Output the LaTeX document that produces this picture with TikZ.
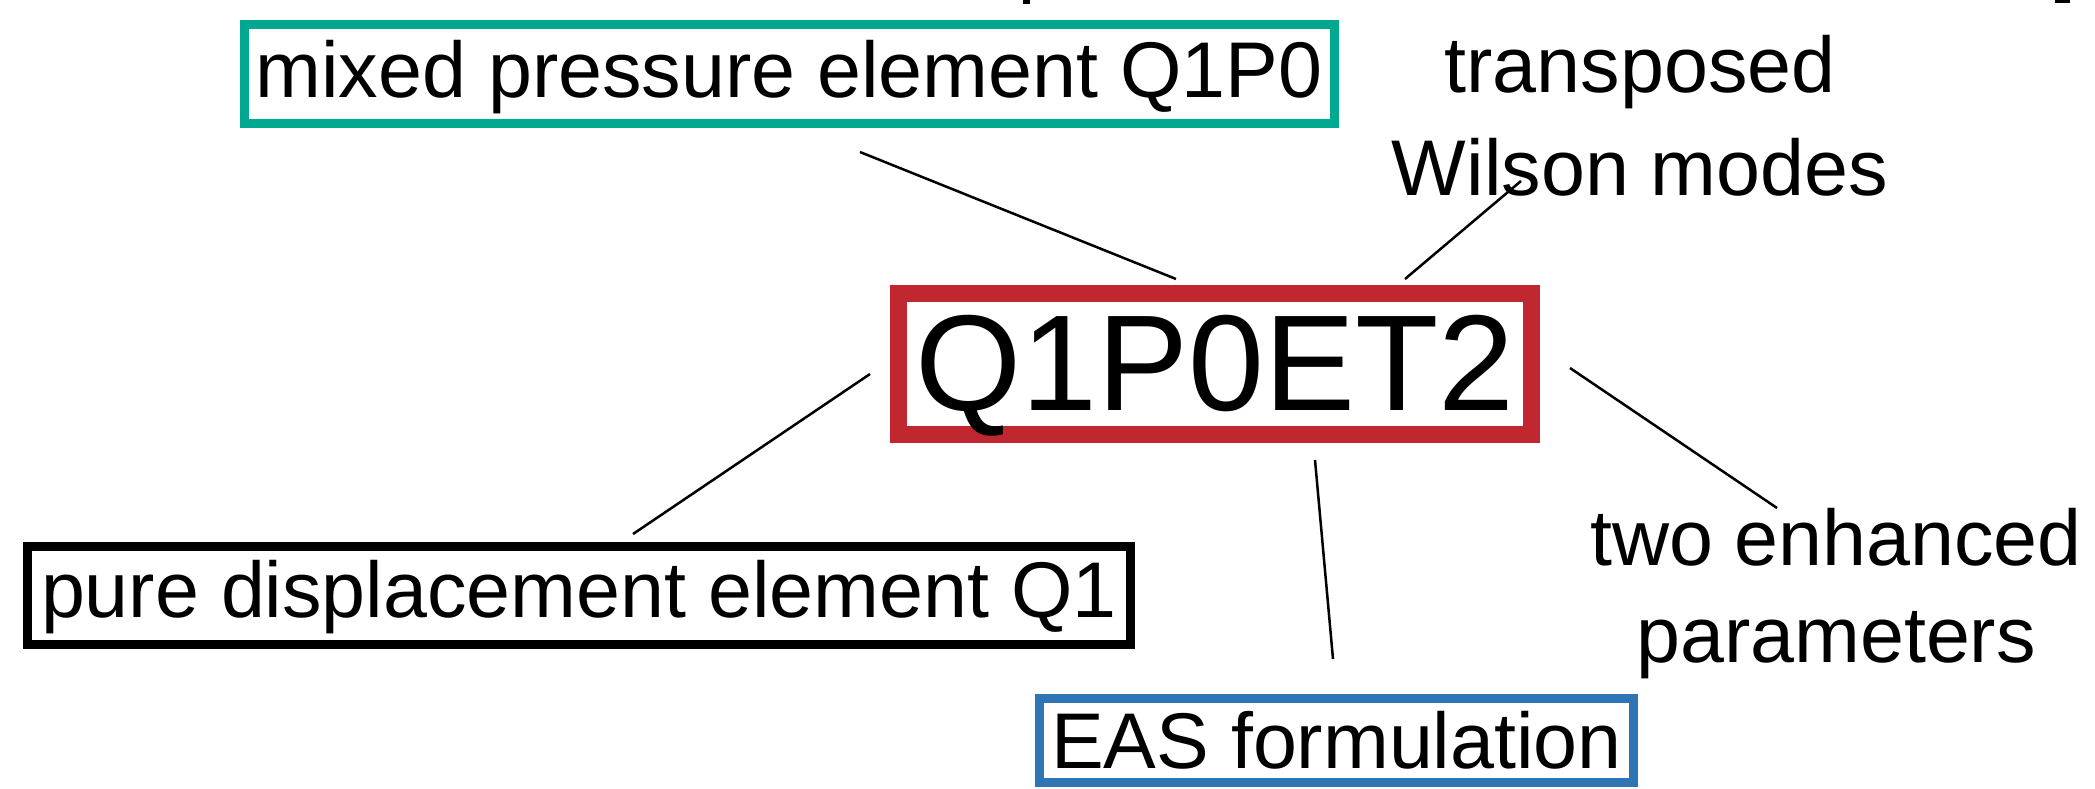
\documentclass[tikz,border=0pt]{standalone}
\usepackage{fontspec}
\setmainfont{Liberation Sans}
\definecolor{boxgreen}{RGB}{0,168,143}
\definecolor{boxred}{RGB}{192,39,48}
\definecolor{boxblue}{RGB}{46,117,182}
\begin{document}
\begin{tikzpicture}[x=1pt,y=-1pt,
  lbl/.style={font=\fontsize{79}{97}\selectfont, inner sep=0pt},
  frame/.style={draw, line width=9pt, inner sep=0pt, fill=white},
  link/.style={line width=2.5pt}]
\useasboundingbox (0,0) rectangle (2095,788);

% fragments cut off at the top edge
\fill (1023,0) rectangle (1030,4);
\fill (2055,0) rectangle (2070,3);

% central element
\node[frame, draw=boxred, line width=17pt, minimum width=633pt, minimum height=141pt,
      font=\fontsize{136.5}{160}\selectfont, text height=114pt, text depth=21pt]
      (core) at (1215,364) {Q1P0ET2};

% framed ingredients
\node[frame, lbl, draw=boxgreen, minimum width=1090pt, minimum height=99pt,
      text height=63pt, text depth=16pt] (mixed) at (789,74) {mixed pressure element Q1P0};
\node[frame, lbl, draw=black, minimum width=1103pt, minimum height=98pt,
      text height=61pt, text depth=18pt] (pure) at (579,595.5) {pure displacement element Q1};
\node[frame, lbl, draw=boxblue, minimum width=594pt, minimum height=84pt,
      text height=67pt, text depth=12pt] (eas) at (1336.5,740.5) {EAS formulation};

% unframed ingredients (anchored on the baseline of their last line)
\node[lbl, font=\fontsize{79}{103}\selectfont, align=center, anchor=base] (wilson) at (1640,195) {transposed\\Wilson modes};
\node[lbl, align=center, anchor=base] (enh) at (1836,662) {two enhanced\\parameters};

% connector ends
\coordinate (mixedEnd) at (860,152);   \coordinate (coreNW) at (1176,279);
\coordinate (wilsonEnd) at (1521,181); \coordinate (coreNE) at (1405,279);
\coordinate (coreW) at (870,374);      \coordinate (pureEnd) at (633,534);
\coordinate (coreS) at (1315,460);     \coordinate (easEnd) at (1333,659);
\coordinate (coreE) at (1570,368);     \coordinate (enhEnd) at (1777,508);

\draw[link] (mixedEnd) -- (coreNW);
\draw[link] (wilsonEnd) -- (coreNE);
\draw[link] (coreW) -- (pureEnd);
\draw[link] (coreS) -- (easEnd);
\draw[link] (coreE) -- (enhEnd);
\end{tikzpicture}
\end{document}
